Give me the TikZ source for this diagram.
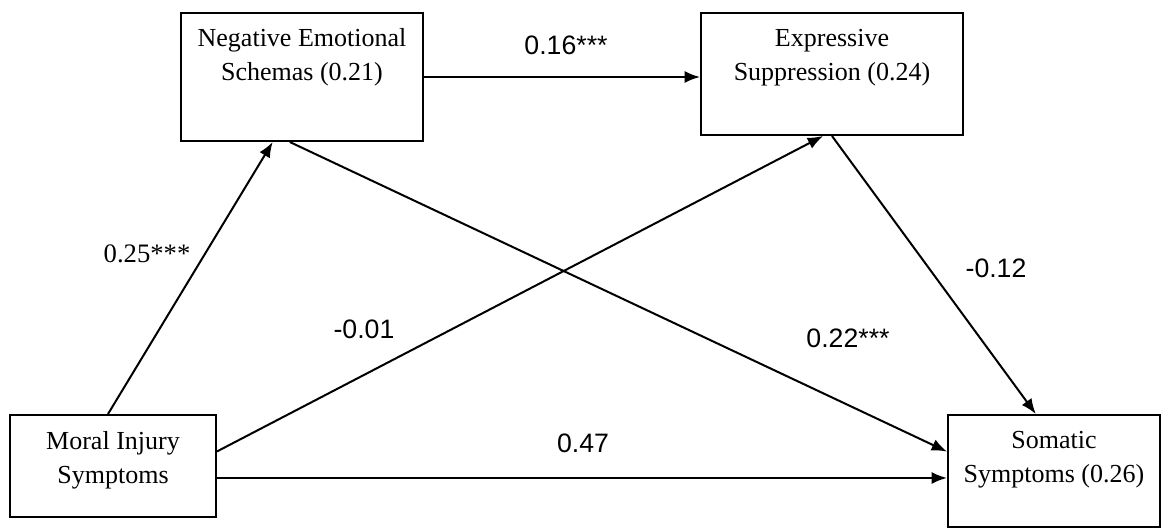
\documentclass[tikz,border=0pt]{standalone}
\usepackage{fontspec}
\setmainfont{Liberation Serif}
\newfontfamily\coeffont{Liberation Sans}
\usetikzlibrary{arrows.meta, calc}
\tikzset{
  >={Latex[length=11.5pt,width=9pt]},
  % Riquadri delle variabili
  box/.style={draw, line width=1.5pt, rectangle, inner sep=0pt},
  box text/.style={anchor=north, align=center, inner sep=0pt, font=\fontsize{19.5}{25.5}\selectfont},
  % Coefficienti sui percorsi
  coef/.style={inner sep=0pt, font=\coeffont\fontsize{20}{22}\selectfont},
  coef serif/.style={inner sep=0pt, font=\fontsize{20}{22}\selectfont},
  link/.style={->, line width=1.5pt}
}

\begin{document}
\begin{tikzpicture}[x=0.75pt, y=-0.75pt]
    \useasboundingbox (0,0) rectangle (1164,531);
    \node[box, minimum width=181.5pt, minimum height=96pt]   (BoxNeg)   at (302,77)   {};
    \node[box, minimum width=196.5pt, minimum height=91.5pt] (BoxExpr)  at (832,74)   {};
    \node[box, minimum width=154.5pt, minimum height=76.5pt] (BoxMoral) at (113,466)  {};
    \node[box, minimum width=159pt,   minimum height=84pt]   (BoxSom)   at (1054,471) {};
    \node[box text] (TextNeg)   at ([yshift=-12.5pt]BoxNeg.north)   {Negative Emotional\\Schemas (0.21)};
    \node[box text] (TextExpr)  at ([yshift=-12.5pt]BoxExpr.north)  {Expressive\\Suppression (0.24)};
    \node[box text] (TextMoral) at ([yshift=-13pt]BoxMoral.north) {Moral Injury\\Symptoms};
    \node[box text] (TextSom)   at ([yshift=-13pt]BoxSom.north)   {Somatic\\Symptoms (0.26)};
    \node[coef]       (CoefNegExpr)   at (566,45)  {0.16***};
    \node[coef serif] (CoefMoralNeg)  at (147,254) {0.25***};
    \node[coef]       (CoefMoralExpr) at (364,329) {-0.01};
    \node[coef]       (CoefNegSom)    at (848,338) {0.22***};
    \node[coef]       (CoefExprSom)   at (996,268) {-0.12};
    \node[coef]       (CoefMoralSom)  at (583,443) {0.47};
    \coordinate (MoralOut) at ($(BoxMoral.north east)!0.615!(BoxMoral.south east)$);
    \draw[link] (BoxNeg.east) -- (BoxNeg.east -| BoxExpr.west);
    \draw[link] ($(BoxMoral.north west)!0.476!(BoxMoral.north east)$) -- ($(BoxNeg.south west)!0.38!(BoxNeg.south east)$);
    \draw[link] ($(BoxNeg.south west)!0.45!(BoxNeg.south east)$)       -- ($(BoxSom.north west)!0.33!(BoxSom.south west)$);
    \draw[link] ($(BoxMoral.north east)!0.36!(BoxMoral.south east)$)   -- ($(BoxExpr.south west)!0.466!(BoxExpr.south east)$);
    \draw[link] (BoxExpr.south) -- ($(BoxSom.north west)!0.415!(BoxSom.north east)$);
    \draw[link] (MoralOut) -- (MoralOut -| BoxSom.west);
\end{tikzpicture}
\end{document}
